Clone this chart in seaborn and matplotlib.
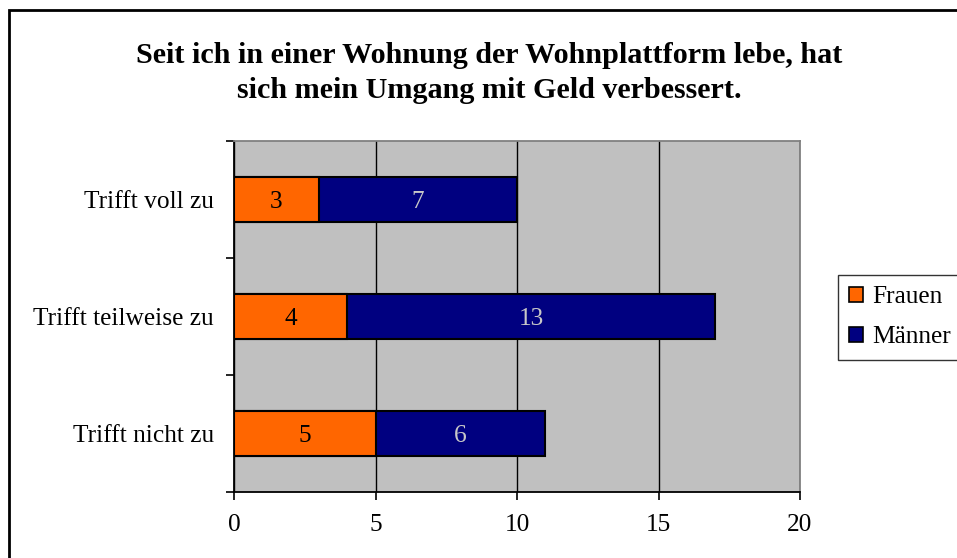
import matplotlib
matplotlib.use("Agg")
import matplotlib.pyplot as plt
import seaborn as sns
import pandas as pd
from matplotlib.patches import Rectangle, Patch

# Survey answers by gender
categories = ["Trifft voll zu", "Trifft teilweise zu", "Trifft nicht zu"]
frauen = [3, 4, 5]
maenner = [7, 13, 6]
x_ticks = [0, 5, 10, 15, 20]
title = ("Seit ich in einer Wohnung der Wohnplattform lebe, hat\n"
         "sich mein Umgang mit Geld verbessert.")

sns.set_theme(style="white")
plt.rcParams["font.family"] = ["Liberation Serif", "DejaVu Serif"]
plt.rcParams["text.color"] = "black"
plt.rcParams["xtick.color"] = "black"
plt.rcParams["ytick.color"] = "black"
plt.rcParams["axes.labelcolor"] = "black"

ORANGE = "#FF6600"
NAVY = "#000080"
PLOT_BG = "#C0C0C0"
FS = 18.3

df = pd.DataFrame({"Kategorie": categories, "Frauen": frauen, "Männer": maenner})
df["Gesamt"] = df["Frauen"] + df["Männer"]

fig = plt.figure(figsize=(9.57, 5.58), dpi=100)
ax = fig.add_axes([234 / 957, 1 - 492 / 558, (800 - 234) / 957, (492 - 141) / 558])
ax.set_facecolor(PLOT_BG)

# stacked bars: full total in navy, women's share in orange on top
sns.barplot(data=df, x="Gesamt", y="Kategorie", color=NAVY, width=0.39,
            edgecolor="black", linewidth=1.5, saturation=1, ax=ax, zorder=3)
sns.barplot(data=df, x="Frauen", y="Kategorie", color=ORANGE, width=0.39,
            edgecolor="black", linewidth=1.5, saturation=1, ax=ax, zorder=4)

# value labels
for i, (f, m) in enumerate(zip(frauen, maenner)):
    ax.text(f / 2, i + 0.02, str(f), ha="center", va="center", fontsize=FS,
            color="black", zorder=5)
    ax.text(f + m / 2, i + 0.02, str(m), ha="center", va="center", fontsize=FS,
            color="#C8C8C8", zorder=5)

ax.set_xlim(0, 20)
ax.set_ylim(2.5, -0.5)
ax.set_xticks(x_ticks)
ax.set_xticklabels([str(t) for t in x_ticks], fontsize=FS)
ax.set_yticks(range(len(categories)))
ax.set_yticklabels(categories, fontsize=FS)
ax.set_yticks([-0.5, 0.5, 1.5, 2.5], minor=True)
ax.tick_params(axis="y", which="major", length=0, pad=14.5)
ax.tick_params(axis="y", which="minor", length=6, width=1.2, color="black",
               direction="out", left=True)
ax.tick_params(axis="x", which="major", length=6, width=1.2, color="black",
               direction="out", bottom=True, pad=10)
ax.set_xlabel("")
ax.set_ylabel("")

ax.grid(axis="x", color="black", linewidth=1.0, zorder=1)
ax.set_axisbelow(True)
for side in ("left", "bottom"):
    ax.spines[side].set_color("black")
    ax.spines[side].set_linewidth(1.3)
for side in ("top", "right"):
    ax.spines[side].set_color("#808080")
    ax.spines[side].set_linewidth(1.3)

# legend
handles = [Patch(facecolor=ORANGE, edgecolor="black", linewidth=1.2, label="Frauen"),
           Patch(facecolor=NAVY, edgecolor="black", linewidth=1.2, label="Männer")]
leg = fig.legend(handles=handles, loc="upper left",
                 bbox_to_anchor=(838 / 957, 1 - 275 / 558), fontsize=FS,
                 frameon=True, fancybox=False, borderpad=0.45, labelspacing=0.7,
                 handlelength=0.55, handleheight=0.55, handletextpad=0.35,
                 borderaxespad=0.0)
leg.get_frame().set_edgecolor("black")
leg.get_frame().set_linewidth(1.0)

fig.text(0.511, 1 - 42 / 558, title, ha="center", va="top", fontsize=21.7,
         fontweight="bold", linespacing=1.38)

# chart frame
fig.patches.append(Rectangle((8.5 / 957, -0.1), 1.2, 1 - 10.5 / 558 + 0.1,
                             transform=fig.transFigure, fill=False,
                             edgecolor="black", linewidth=2.0))

fig.savefig("out.png", dpi=100, facecolor="white")
